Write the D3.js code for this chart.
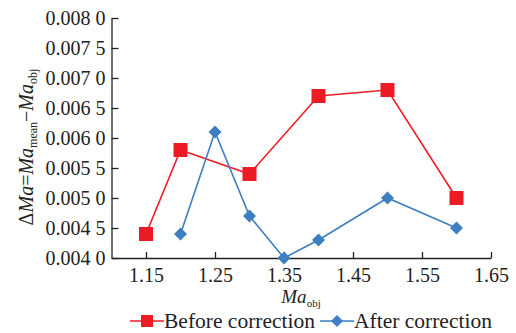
<!DOCTYPE html>
<html><head><meta charset="utf-8">
<script src="https://cdn.jsdelivr.net/npm/d3@7"></script>
</head><body style="margin:0">
<script>
const xBefore = [1.15, 1.20, 1.30, 1.40, 1.50, 1.60];
const yBefore = [0.0044, 0.0058, 0.0054, 0.0067, 0.0068, 0.0050];
const xAfter = [1.20, 1.25, 1.30, 1.35, 1.40, 1.50, 1.60];
const yAfter = [0.0044, 0.0061, 0.0047, 0.0040, 0.0043, 0.0050, 0.0045];
const xTicks = [1.15, 1.25, 1.35, 1.45, 1.55, 1.65];
const yTicks = [0.0040, 0.0045, 0.0050, 0.0055, 0.0060, 0.0065, 0.0070, 0.0075, 0.0080];
const yTickLabels = ["0.004 0","0.004 5","0.005 0","0.005 5","0.006 0","0.006 5","0.007 0","0.007 5","0.008 0"];
const seriesNames = ["Before correction", "After correction"];
const colors = ["#ed1c24", "#3d7fc1"];

const FONT = "Liberation Serif";
const W = 516, H = 333;
const svg = d3.select("body").append("svg").attr("width", W).attr("height", H)
  .style("display", "block").style("background", "#fff");
const x = d3.scaleLinear().domain([1.10, 1.65]).range([111.5, 491]);
const y = d3.scaleLinear().domain([0.0040, 0.0080]).range([258, 18]);

const ax = svg.append("g").attr("transform", "translate(0,258)")
  .call(d3.axisBottom(x).tickValues(xTicks).tickSizeInner(-6).tickSizeOuter(0).tickPadding(10).tickFormat(d3.format(".2f")));
const ay = svg.append("g").attr("transform", "translate(111.5,0)")
  .call(d3.axisLeft(y).tickValues(yTicks).tickSizeInner(-7).tickSizeOuter(0).tickPadding(6).tickFormat((d,i)=>yTickLabels[i]));
[ax, ay].forEach(g => {
  g.attr("font-family", FONT).attr("font-size", 20);
  g.selectAll("path,line").attr("stroke", "#222").attr("stroke-width", 1.3);
  g.selectAll("text").attr("fill", "#222").attr("font-family", FONT).attr("font-size", 20);
});
ay.selectAll("text").attr("dy", "0.34em");

const data = [xBefore.map((v,i)=>[v, yBefore[i]]), xAfter.map((v,i)=>[v, yAfter[i]])];
const line = d3.line().x(d=>x(d[0])).y(d=>y(d[1]));
data.forEach((s, k) => {
  svg.append("path").datum(s).attr("d", line).attr("fill", "none").attr("stroke", colors[k]).attr("stroke-width", 1.6);
});
svg.selectAll(".sq").data(data[0]).join("rect").attr("class","sq")
  .attr("x", d=>x(d[0])-7).attr("y", d=>y(d[1])-7).attr("width", 14).attr("height", 14).attr("fill", colors[0]);
const diamond = d3.symbol().type(d3.symbolSquare).size(84);
svg.selectAll(".dm").data(data[1]).join("path").attr("class","dm")
  .attr("d", diamond).attr("transform", d=>`translate(${x(d[0])},${y(d[1])}) rotate(45)`).attr("fill", colors[1]);

// axis titles
const yt = svg.append("text").attr("transform", "translate(33,147) rotate(-90)").attr("text-anchor", "middle")
  .attr("font-family", FONT).attr("font-size", 20).attr("fill", "#222");
yt.append("tspan").text("Δ");
yt.append("tspan").attr("font-style", "italic").text("Ma");
yt.append("tspan").text("=");
yt.append("tspan").attr("font-style", "italic").text("Ma");
yt.append("tspan").attr("dy", 4).attr("font-size", 12).text("mean");
yt.append("tspan").attr("dy", -4).text("−");
yt.append("tspan").attr("font-style", "italic").text("Ma");
yt.append("tspan").attr("dy", 4).attr("font-size", 12).text("obj");

const xt = svg.append("text").attr("x", 301).attr("y", 303).attr("text-anchor", "middle")
  .attr("font-family", FONT).attr("font-size", 19).attr("fill", "#222");
xt.append("tspan").attr("font-style", "italic").text("Ma");
xt.append("tspan").attr("dy", 4).attr("font-size", 11).text("obj");

// legend
const lg = svg.append("g");
const items = [{x0:130, name:seriesNames[0], c:colors[0], t:"sq"}, {x0:320, name:seriesNames[1], c:colors[1], t:"dm"}];
items.forEach(it => {
  lg.append("line").attr("x1", it.x0).attr("x2", it.x0+34).attr("y1", 321).attr("y2", 321).attr("stroke", it.c).attr("stroke-width", 1.6);
  if (it.t === "sq") lg.append("rect").attr("x", it.x0+11).attr("y", 315).attr("width", 12).attr("height", 12).attr("fill", it.c);
  else lg.append("path").attr("d", d3.symbol().type(d3.symbolSquare).size(72)).attr("transform", `translate(${it.x0+17},321) rotate(45)`).attr("fill", it.c);
  lg.append("text").attr("x", it.x0+34).attr("y", 328).attr("font-family", FONT).attr("font-size", 21.5).attr("fill", "#222").text(it.name);
});
</script>
</body></html>
